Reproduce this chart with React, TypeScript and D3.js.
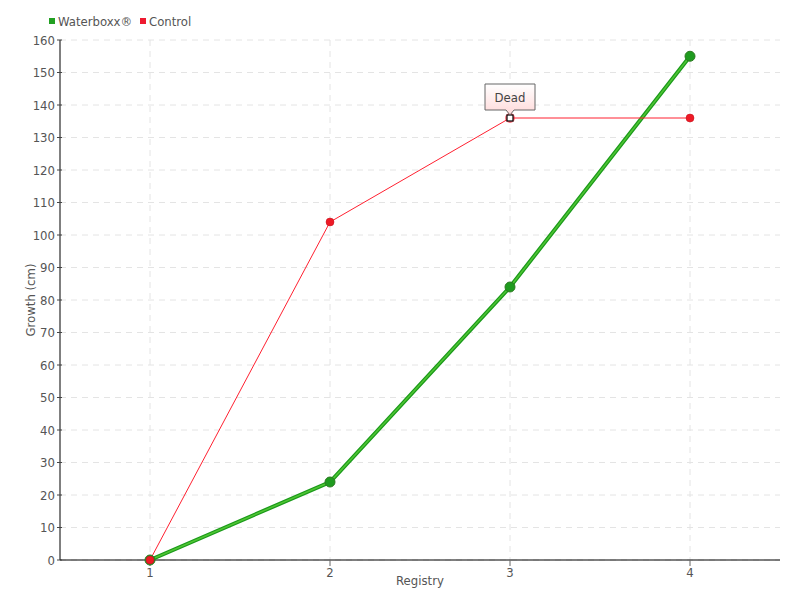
import React from "react";
import * as d3 from "d3";

const categories = [1, 2, 3, 4];
const waterboxx = [0, 24, 84, 155];
const control = [0, 104, 136, 136];
const yTicks = [0, 10, 20, 30, 40, 50, 60, 70, 80, 90, 100, 110, 120, 130, 140, 150, 160];
const deadIndex = 2;

const W = 800, H = 600;
const M = { left: 60, right: 20, top: 40, bottom: 40 };
const FONT = "'Liberation Sans Narrow', 'DejaVu Sans Condensed', sans-serif";

export default function App() {
  const x = d3.scaleLinear().domain([0.5, 4.5]).range([M.left, W - M.right]);
  const y = d3.scaleLinear().domain([0, 160]).range([H - M.bottom, M.top]);
  const line = d3.line<number>().x((_, i) => x(categories[i])).y((d) => y(d));
  const deadX = x(categories[deadIndex]);
  const deadY = y(control[deadIndex]);
  return (
    <svg width={W} height={H} style={{ position: "absolute", left: 0, top: 0, fontFamily: FONT }}>
      <rect width={W} height={H} fill="#fff" />
      {yTicks.map((t) => (
        <line key={"g" + t} x1={M.left} x2={W - M.right} y1={y(t)} y2={y(t)} stroke="#e4e4e4" strokeDasharray="6,5" />
      ))}
      {categories.map((c) => (
        <line key={"v" + c} x1={x(c)} x2={x(c)} y1={M.top} y2={H - M.bottom} stroke="#e4e4e4" strokeDasharray="6,5" />
      ))}
      <line x1={M.left} x2={W - M.right} y1={H - M.bottom} y2={H - M.bottom} stroke="#000" />
      <line x1={M.left} x2={M.left} y1={M.top} y2={H - M.bottom} stroke="#000" />
      {yTicks.map((t) => (
        <g key={"t" + t}>
          <line x1={M.left - 3} x2={M.left + 2} y1={y(t)} y2={y(t)} stroke="#444" />
          <text x={M.left - 5} y={y(t)} dy="0.35em" textAnchor="end" fontSize={13} fill="#555">{t}</text>
        </g>
      ))}
      {categories.map((c) => (
        <g key={"xt" + c}>
          <line x1={x(c)} x2={x(c)} y1={H - M.bottom} y2={H - M.bottom + 6} stroke="#666" />
          <text x={x(c)} y={H - M.bottom + 17} textAnchor="middle" fontSize={13} fill="#555">{c}</text>
        </g>
      ))}
      <text x={420} y={585} textAnchor="middle" fontSize={13} fill="#555">Registry</text>
      <text transform={`translate(35,300) rotate(-90)`} textAnchor="middle" fontSize={13} fill="#555">Growth (cm)</text>

      <path d={line(waterboxx) || ""} fill="none" stroke="#1a9a1a" strokeWidth={4} />
      <path d={line(waterboxx) || ""} fill="none" stroke="#5ccf3a" strokeWidth={1.5} opacity={0.8} />
      <path d={line(control) || ""} fill="none" stroke="#ff2030" strokeWidth={1} />

      {waterboxx.map((v, i) => (
        <circle key={"wm" + i} cx={x(categories[i])} cy={y(v)} r={5} fill="#1f9b1f" stroke="#2c7a20" strokeWidth={1} />
      ))}
      {control.map((v, i) =>
        i === deadIndex ? null : (
          <circle key={"cm" + i} cx={x(categories[i])} cy={y(v)} r={4} fill="#ee1a26" stroke="#c0101a" strokeWidth={0.5} />
        )
      )}
      <circle cx={deadX} cy={deadY} r={5} fill="#ff2030" opacity={0.6} />
      <rect x={deadX - 3} y={deadY - 3} width={6} height={6} fill="#fff" stroke="#000" strokeWidth={1.2} />

      <defs>
        <linearGradient id="tipg" x1="0" y1="0" x2="0" y2="1">
          <stop offset="0" stopColor="#ffffff" />
          <stop offset="1" stopColor="#ffd9d9" />
        </linearGradient>
      </defs>
      <path
        d={`M${deadX - 25},${deadY - 34} h50 v26 h-21 l-4,5 l-4,-5 h-21 z`}
        fill="url(#tipg)"
        stroke="#666"
        strokeWidth={1}
      />
      <text x={deadX} y={deadY - 16} textAnchor="middle" fontSize={13} fill="#444">Dead</text>

      <rect x={49} y={18} width={6} height={6} fill="#22a022" />
      <text x={58} y={26} fontSize={13} fill="#555">Waterboxx®</text>
      <rect x={140} y={18} width={6} height={6} fill="#ee1a30" />
      <text x={149} y={26} fontSize={13} fill="#555">Control</text>
    </svg>
  );
}
